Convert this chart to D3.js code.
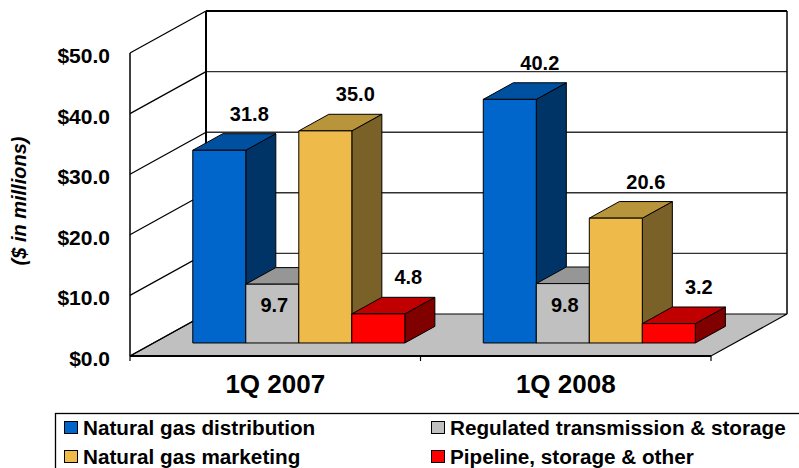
<!DOCTYPE html>
<html><head><meta charset="utf-8">
<script src="https://cdn.jsdelivr.net/npm/d3@7"></script>
<style>html,body{margin:0;padding:0;background:#fff;}svg{display:block;font-family:"Liberation Sans",Arial,sans-serif;font-weight:bold;}</style>
</head><body>
<svg id="chart" width="799" height="468"></svg>
<script>
const categories = ["1Q 2007", "1Q 2008"];
const seriesNames = ["Natural gas distribution", "Regulated transmission & storage", "Natural gas marketing", "Pipeline, storage & other"];
const distribution = [31.8, 40.2];
const regulated = [9.7, 9.8];
const marketing = [35.0, 20.6];
const pipeline = [4.8, 3.2];
const yTicks = [0, 10, 20, 30, 40, 50];
const legendRows = [[0, 1], [2, 3]];

const seriesValues = [distribution, regulated, marketing, pipeline];
const colors = [
  {front: "#0066CC", top: "#0050A0", side: "#003366"},
  {front: "#C0C0C0", top: "#969696", side: "#606060"},
  {front: "#EEBB4B", top: "#B8943A", side: "#7A6128"},
  {front: "#FF0000", top: "#C00000", side: "#800000"}
];

const svg = d3.select("#chart");
const DX = 76, DY = -42;          // full depth of the 3D box
const D0 = 0.31, D1 = 0.705;      // bar depth slice

const y = d3.scaleLinear().domain([0, 50]).range([356, 53]);
const x0 = d3.scaleBand().domain(categories).range([130, 711]).paddingInner(0.27).paddingOuter(0.135);
const x1 = d3.scaleBand().domain(d3.range(seriesNames.length)).range([0, x0.bandwidth()]);

const P = (xb, v, d) => [xb + d * DX, y(v) + d * DY];
const [xL, xR] = x0.range();
const line = d3.line();

// back wall and left wall
svg.append("path").attr("d", line([P(xL,0,1), P(xR,0,1), P(xR,50,1), P(xL,50,1)]) + "Z").attr("fill", "#fff");
// floor
svg.append("path").attr("d", line([P(xL,0,0), P(xR,0,0), P(xR,0,1), P(xL,0,1)]) + "Z")
  .attr("fill", "#C0C0C0").attr("stroke", "#000").attr("stroke-width", 1.2);

// gridlines on back wall & left wall
yTicks.forEach(t => {
  if (t > 0) {
    svg.append("path").attr("d", line([P(xL,t,1), P(xR,t,1)])).attr("stroke", t === 50 ? "#000" : "#303030").attr("stroke-width", t === 50 ? 1.8 : 1.4).attr("fill", "none");
  }
  svg.append("path").attr("d", line([P(xL,t,0), P(xL,t,1)])).attr("stroke", "#000").attr("stroke-width", 1.3).attr("fill", "none");
});
// wall edges
svg.append("path").attr("d", line([P(xL,0,1), P(xL,50,1)])).attr("stroke", "#000").attr("stroke-width", 2);
svg.append("path").attr("d", line([P(xR,0,1), P(xR,50,1)])).attr("stroke", "#000").attr("stroke-width", 1.5);
svg.append("path").attr("d", line([P(xL,0,0), P(xL,50,0)])).attr("stroke", "#000").attr("stroke-width", 1.5);
svg.append("path").attr("d", line([P(xL,0,0), P(xR,0,0)])).attr("stroke", "#000").attr("stroke-width", 2.2);

// category ticks
const step = x0.step();
d3.range(categories.length + 1).forEach(i => {
  const xx = xL + i * step;
  svg.append("line").attr("x1", xx).attr("x2", xx).attr("y1", y(0)).attr("y2", y(0) + 5).attr("stroke", "#000").attr("stroke-width", 1.2);
});

// bars
const bars = svg.append("g").attr("stroke", "#000").attr("stroke-width", 1).attr("stroke-linejoin", "round");
const labels = [];
categories.forEach((c, ci) => {
  seriesValues.forEach((vals, si) => {
    const v = vals[ci];
    const xa = x0(c) + x1(si), xb = xa + x1.bandwidth();
    const col = colors[si];
    // side
    bars.append("path").attr("d", line([P(xb,0,D0), P(xb,0,D1), P(xb,v,D1), P(xb,v,D0)]) + "Z").attr("fill", col.side);
    // top
    bars.append("path").attr("d", line([P(xa,v,D0), P(xb,v,D0), P(xb,v,D1), P(xa,v,D1)]) + "Z").attr("fill", col.top);
    // front
    bars.append("path").attr("d", line([P(xa,0,D0), P(xb,0,D0), P(xb,v,D0), P(xa,v,D0)]) + "Z").attr("fill", col.front);
    const mid = (xa + xb) / 2;
    if (si === 1) {
      const p = P(mid, v, D0);
      labels.push({x: p[0] + 2, y: p[1] + 28, t: v.toFixed(1)});
    } else {
      const p = P(mid, v, D1);
      labels.push({x: p[0], y: p[1] - 13, t: v.toFixed(1)});
    }
  });
});

svg.append("g").selectAll("text").data(labels).join("text")
  .attr("x", d => d.x).attr("y", d => d.y).attr("text-anchor", "middle")
  .attr("font-size", 20).attr("fill", "#000").text(d => d.t);

// y tick labels
const fmt = d3.format("$.1f");
svg.append("g").selectAll("text").data(yTicks).join("text")
  .attr("x", 110).attr("y", d => y(d) + 10).attr("text-anchor", "end")
  .attr("font-size", 21).text(d => fmt(d));

// y title
svg.append("text").attr("transform", "translate(26,201) rotate(-90)").attr("text-anchor", "middle")
  .attr("font-size", 20).attr("font-style", "italic").text("($ in millions)");

// category labels
svg.append("g").selectAll("text").data(categories).join("text")
  .attr("x", c => x0(c) + x0.bandwidth() / 2).attr("y", 393).attr("text-anchor", "middle")
  .attr("font-size", 26).text(c => c);

// legend
const lg = svg.append("g");
lg.append("rect").attr("x", 55.5).attr("y", 413.5).attr("width", 760).attr("height", 80).attr("fill", "#fff").attr("stroke", "#000").attr("stroke-width", 1.3);
const colX = [64, 431];
const rowY = [428, 457];
legendRows.forEach((row, ri) => {
  row.forEach((si, ci) => {
    lg.append("rect").attr("x", colX[ci] + 0.5).attr("y", rowY[ri] - 6.5).attr("width", 13).attr("height", 12)
      .attr("fill", colors[si].front).attr("stroke", "#000").attr("stroke-width", 1);
    lg.append("text").attr("x", colX[ci] + 19).attr("y", rowY[ri] + 7).attr("font-size", 20.7).text(seriesNames[si]);
  });
});
</script>
</body></html>
